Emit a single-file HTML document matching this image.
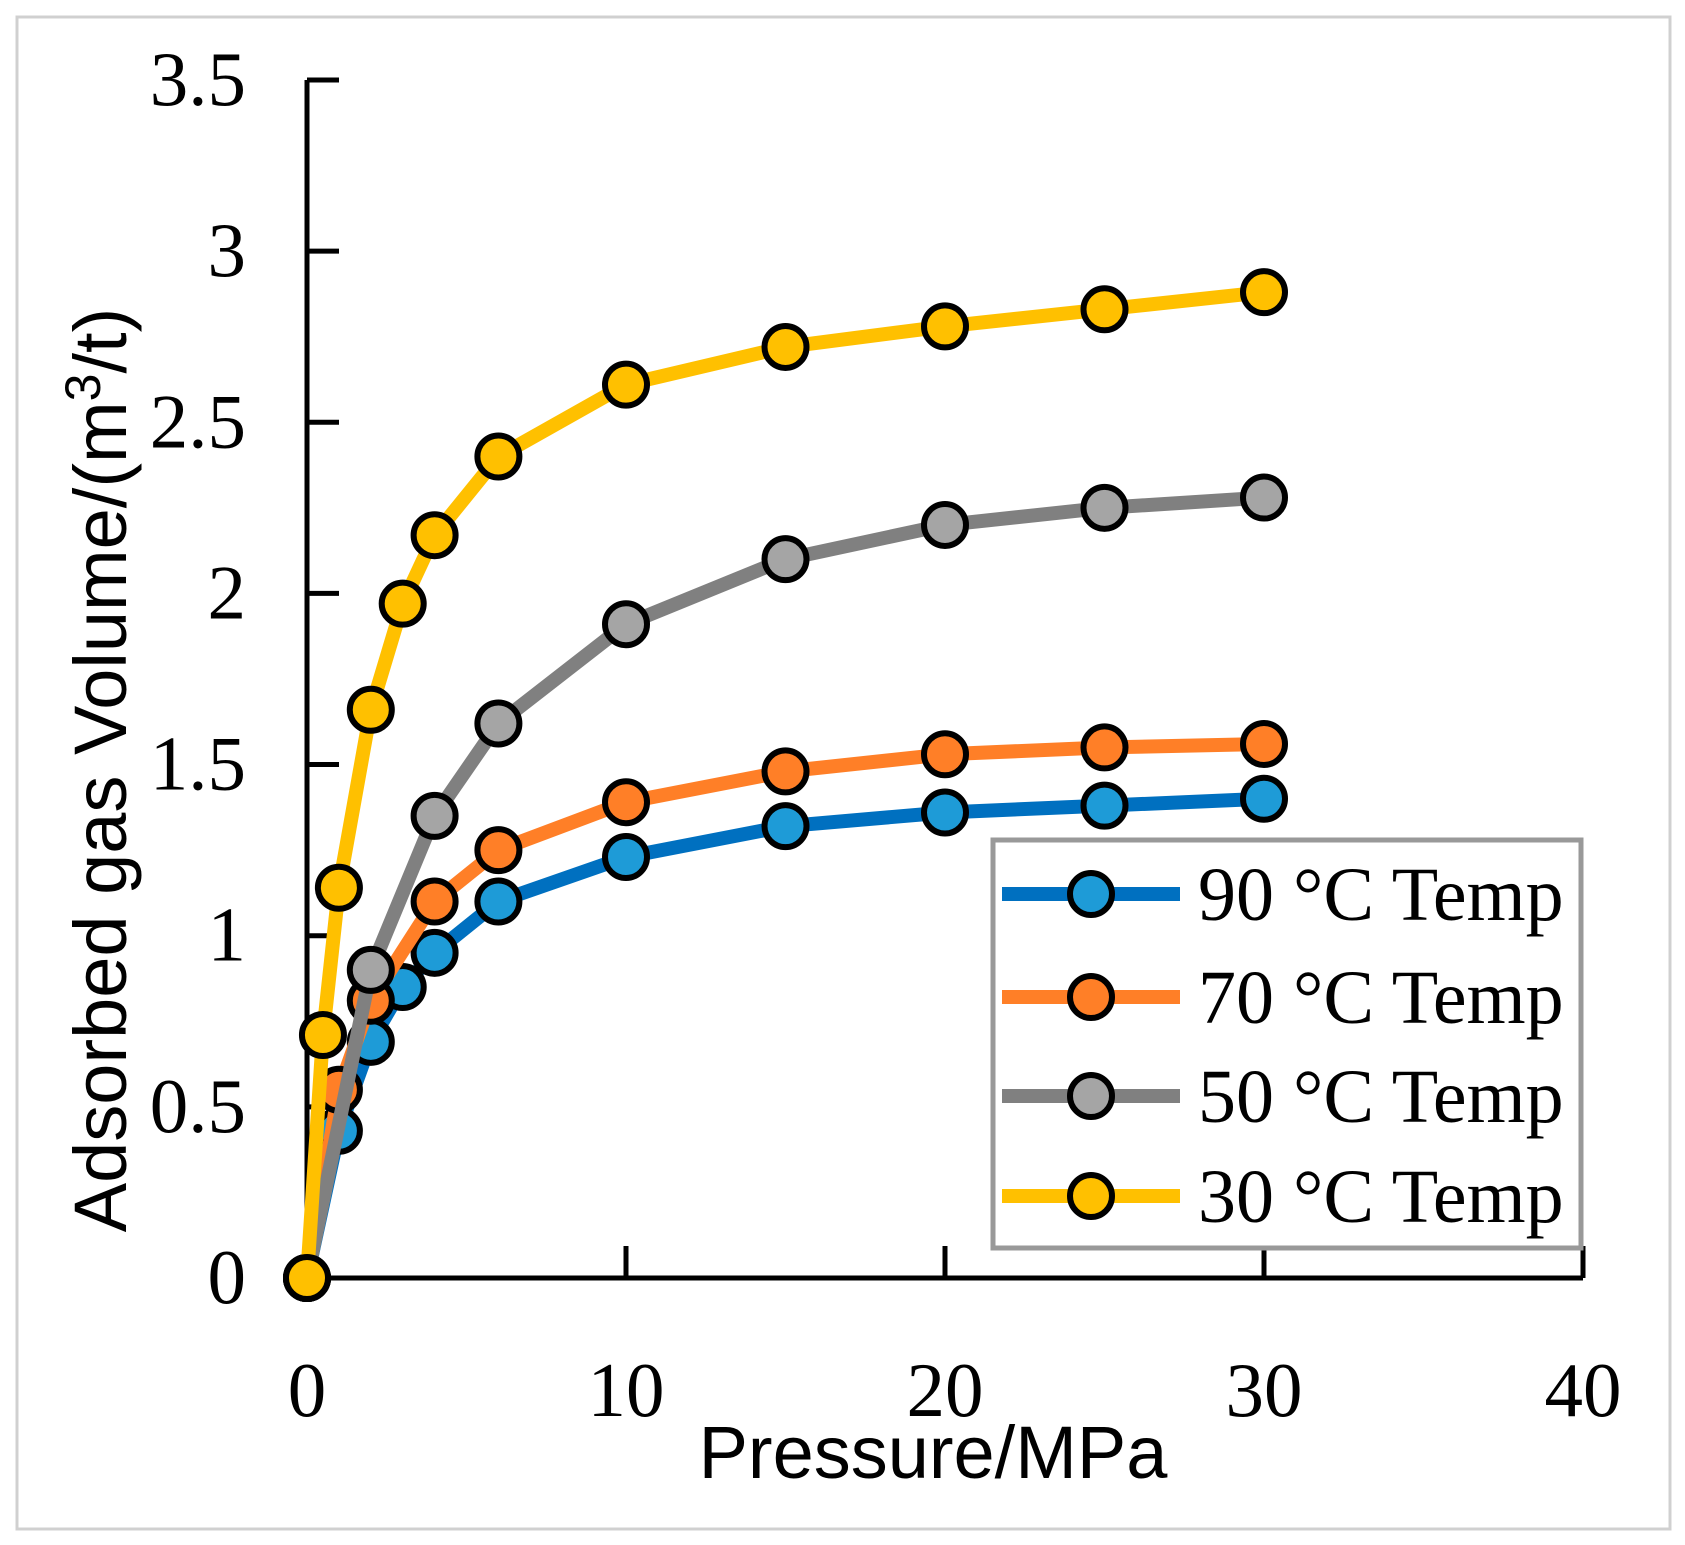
<!DOCTYPE html>
<html><head><meta charset="utf-8"><style>
html,body{margin:0;padding:0;background:#fff;}
svg{display:block;}
</style></head><body>
<svg id="chart" width="1685" height="1545" viewBox="0 0 1685 1545" xmlns="http://www.w3.org/2000/svg">
<rect x="17" y="17" width="1653" height="1512" fill="#fff" stroke="#d0d0d0" stroke-width="3"/>
<g id="plot"></g>
</svg>
<script>
const xTicks=[0,10,20,30,40];
const yTicks=[0,0.5,1,1.5,2,2.5,3,3.5];
const yTickLabels=["0","0.5","1","1.5","2","2.5","3","3.5"];
const seriesNames=["90 °C Temp","70 °C Temp","50 °C Temp","30 °C Temp"];
const x90=[0,1,2,3,4,6,10,15,20,25,30];
const y90=[0,0.43,0.69,0.85,0.95,1.10,1.23,1.32,1.36,1.38,1.40];
const x70=[0,1,2,4,6,10,15,20,25,30];
const y70=[0,0.55,0.81,1.10,1.25,1.39,1.48,1.53,1.55,1.56];
const x50=[0,2,4,6,10,15,20,25,30];
const y50=[0,0.90,1.35,1.62,1.91,2.10,2.20,2.25,2.28];
const x30=[0,0.5,1,2,3,4,6,10,15,20,25,30];
const y30=[0,0.71,1.14,1.66,1.97,2.17,2.40,2.61,2.72,2.78,2.83,2.88];

const NS="http://www.w3.org/2000/svg";
const g=document.getElementById('plot');
const X0=307,XS=31.9,Y0=1278,YS=342.3;
const sx=v=>X0+v*XS, sy=v=>Y0-v*YS;
function mk(tag,attrs,parent){const e=document.createElementNS(NS,tag);for(const k in attrs)e.setAttribute(k,attrs[k]);(parent||g).appendChild(e);return e;}
const serif='"Liberation Serif", serif', sans='"Liberation Sans", "DejaVu Sans", sans-serif';

let ax=mk('line',{x1:sx(0),y1:sy(0),x2:sx(40),y2:sy(0),stroke:'#000','stroke-width':5});


ax=mk('line',{x1:sx(0),y1:sy(0)+2,x2:sx(0),y2:sy(3.5),stroke:'#000','stroke-width':5});


yTicks.forEach((v,i)=>{
  const t=mk('line',{x1:sx(0),y1:sy(v),x2:sx(0)+32,y2:sy(v),stroke:'#000','stroke-width':5});
  
  
  const l=mk('text',{x:246,y:sy(v)+25,'text-anchor':'end','font-family':serif,'font-size':77,fill:'#000'});
  l.textContent=yTickLabels[i];
  
  
});
xTicks.forEach(v=>{
  if(v>0){const t=mk('line',{x1:sx(v),y1:sy(0),x2:sx(v),y2:sy(0)-32,stroke:'#000','stroke-width':5});
  
  }
  const l=mk('text',{x:sx(v),y:1416,'text-anchor':'middle','font-family':serif,'font-size':77,fill:'#000'});
  l.textContent=String(v);
  
  
});
let xt=mk('text',{x:933,y:1478,'text-anchor':'middle','font-family':sans,'font-size':74,fill:'#000'});
xt.textContent='Pressure/MPa';


let yt=mk('text',{x:0,y:0,'text-anchor':'middle','font-family':sans,'font-size':74,fill:'#000',transform:'translate(126,770) rotate(-90)'});
yt.innerHTML='Adsorbed gas Volume/(m<tspan dy="-26" font-size="50">3</tspan><tspan dy="26">/t)</tspan>';



const lineCols=['#0070c0','#ff7f27','#808080','#ffc000'];
const fillCols=['#1e9bd7','#ff7f27','#a5a5a5','#ffc000'];
const xs=[x90,x70,x50,x30], ys=[y90,y70,y50,y30];
const keys=['90c','70c','50c','30c'];
for(let s=0;s<4;s++){
  const pts=xs[s].map((v,i)=>sx(v)+','+sy(ys[s][i])).join(' ');
  const pl=mk('polyline',{points:pts,fill:'none',stroke:lineCols[s],'stroke-width':14,'stroke-linejoin':'round'});
  
  
  xs[s].forEach((v,i)=>{
    const c=mk('circle',{cx:sx(v),cy:sy(ys[s][i]),r:21,fill:fillCols[s],stroke:'#000','stroke-width':6});
    
    
  });
}
const lg=mk('g',{});


mk('rect',{x:993,y:840,width:588,height:408,fill:'#fff',stroke:'#999','stroke-width':5},lg);
const rowY=[894,997,1096,1196];
for(let s=0;s<4;s++){
  const e=mk('g',{},lg);
  
  
  mk('line',{x1:1002,y1:rowY[s],x2:1180,y2:rowY[s],stroke:lineCols[s],'stroke-width':14},e);
  mk('circle',{cx:1091,cy:rowY[s],r:21,fill:fillCols[s],stroke:'#000','stroke-width':6},e);
  const t=mk('text',{x:1198,y:rowY[s]+26,'font-family':serif,'font-size':76,fill:'#000'},e);
  t.textContent=seriesNames[s];
}
</script>
</body></html>
